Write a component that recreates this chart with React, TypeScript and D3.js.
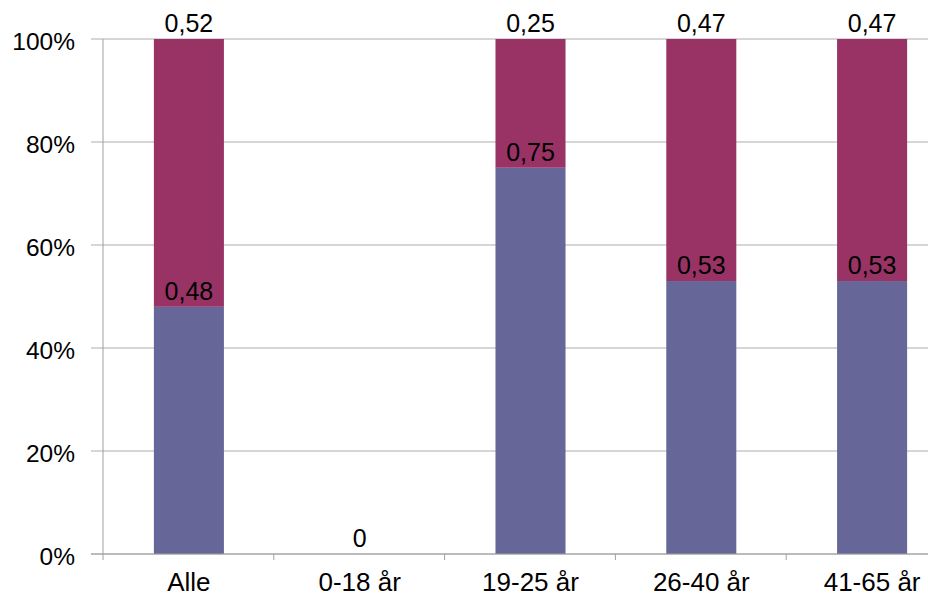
import React from "react";
import * as d3 from "d3";

const categories = ["Alle", "0-18 år", "19-25 år", "26-40 år", "41-65 år"];
const seriesLower = [0.48, 0, 0.75, 0.53, 0.53];
const seriesUpper = [0.52, 0, 0.25, 0.47, 0.47];
const yTicks = [0, 0.2, 0.4, 0.6, 0.8, 1];

const W = 928;
const H = 596;
const left = 103;
const right = 957;
const top = 39;
const bottom = 554;
const FONT = "'Liberation Sans', Arial, sans-serif";

function fmt(v: number) {
  if (v === 0) return "0";
  return String(v).replace(".", ",");
}

export default function App() {
  const x = d3
    .scaleBand<string>()
    .domain(categories)
    .range([left + 0.5, right + 0.5])
    .paddingInner(0.59)
    .paddingOuter(0.295);
  const y = d3.scaleLinear().domain([0, 1]).range([bottom, top]);
  const step = x.step();
  const bw = x.bandwidth();

  const rows = categories.map((c, i) => {
    const total = seriesLower[i] + seriesUpper[i];
    const a = total > 0 ? seriesLower[i] / total : 0;
    const b = total > 0 ? (seriesLower[i] + seriesUpper[i]) / total : 0;
    return { c, i, a, b, total };
  });

  return (
    <svg
      width={W}
      height={H}
      style={{ position: "absolute", left: 0, top: 0, background: "#fff" }}
      fontFamily={FONT}
    >
      {yTicks.map((t) => (
        <g key={t}>
          <line x1={91} x2={right} y1={y(t)} y2={y(t)} stroke="#adadad" strokeWidth={1} />
          <text x={75} y={y(t)} dy="0.45em" textAnchor="end" fontSize={24.5} fill="#000">
            {Math.round(t * 100)}%
          </text>
        </g>
      ))}
      {rows.map((r) =>
        r.total > 0 ? (
          <g key={r.c}>
            <rect x={x(r.c)} width={bw} y={y(r.a)} height={y(0) - y(r.a)} fill="#666699" />
            <rect x={x(r.c)} width={bw} y={y(r.b)} height={y(r.a) - y(r.b)} fill="#993366" />
          </g>
        ) : null
      )}
      <line x1={left} x2={left} y1={top} y2={560} stroke="#a0a0a0" strokeWidth={1} />
      <line x1={91} x2={right} y1={bottom} y2={bottom} stroke="#a0a0a0" strokeWidth={1} />
      {categories.map((c, i) => (
        <line
          key={"t" + c}
          x1={left + step * (i + 1)}
          x2={left + step * (i + 1)}
          y1={bottom}
          y2={560}
          stroke="#a0a0a0"
          strokeWidth={1}
        />
      ))}
      {rows.map((r) => {
        const cx = (x(r.c) as number) + bw / 2;
        if (r.total === 0) {
          return (
            <text key={"l" + r.c} x={cx} y={y(0) - 7} textAnchor="middle" fontSize={25}>
              {fmt(0)}
            </text>
          );
        }
        return (
          <g key={"l" + r.c}>
            <text x={cx} y={y(r.a) - 7} textAnchor="middle" fontSize={25}>
              {fmt(seriesLower[r.i])}
            </text>
            <text x={cx} y={y(r.b) - 7} textAnchor="middle" fontSize={25}>
              {fmt(seriesUpper[r.i])}
            </text>
          </g>
        );
      })}
      {categories.map((c) => (
        <text
          key={"x" + c}
          x={(x(c) as number) + bw / 2}
          y={591}
          textAnchor="middle"
          fontSize={26}
        >
          {c}
        </text>
      ))}
    </svg>
  );
}
